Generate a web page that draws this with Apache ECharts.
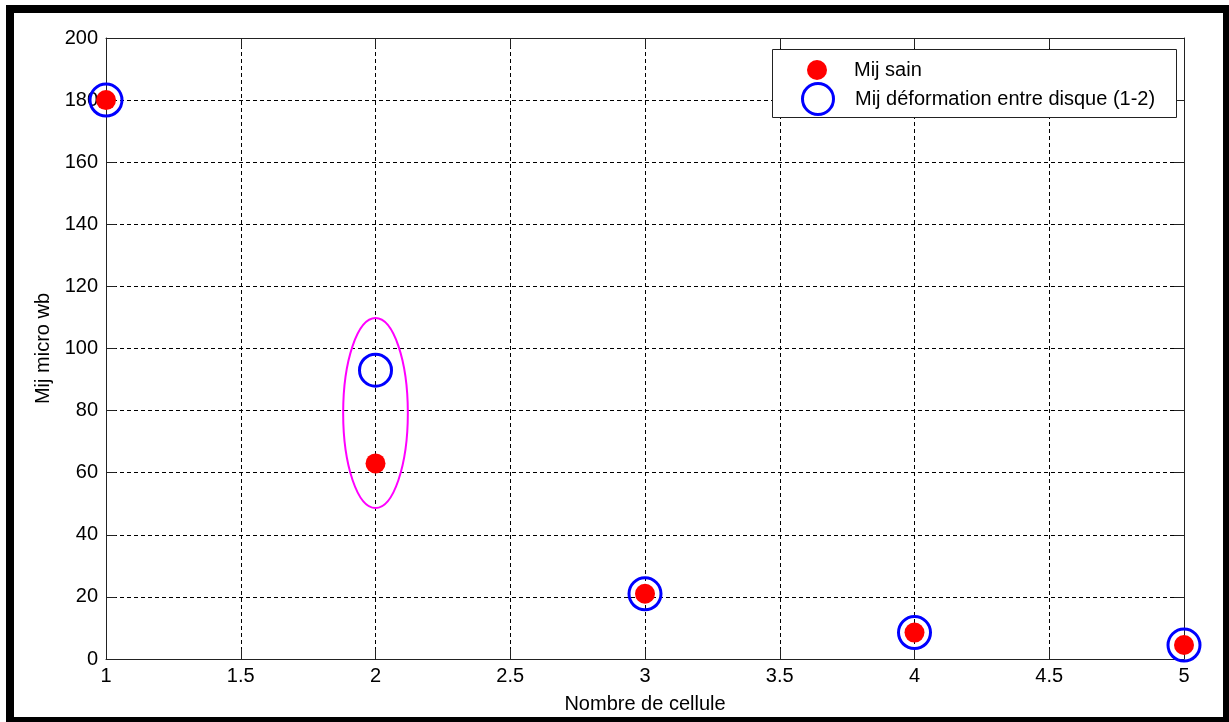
<!DOCTYPE html>
<html>
<head>
<meta charset="utf-8">
<script src="https://cdn.jsdelivr.net/npm/echarts@6/dist/echarts.min.js"></script>
<style>
html,body{margin:0;padding:0;background:#fff;}
#chart{width:1229px;height:722px;}
</style>
</head>
<body>
<div id="chart"></div>
<script>
// ---- data ----
const cellules = [1, 2, 3, 4, 5];
const mijSain = [180, 63, 21, 8.5, 4.5];
const mijDeformation = [180, 93, 21, 8.5, 4.5];
// highlight ellipse: [centre x, centre y, half width (x units), half height (y units)]
const ellipseMark = [[2, 79.2, 0.12, 30.6]];
const seriesNames = ['Mij sain', 'Mij déformation entre disque (1-2)'];
const xAxisTitle = 'Nombre de cellule';
const yAxisTitle = 'Mij micro wb';

const FONT = "'Liberation Sans', Arial, sans-serif";
const chart = echarts.init(document.getElementById('chart'), null, {renderer: 'canvas'});

const xyPairs = (ys) => cellules.map((x, i) => [x, ys[i]]);

const option = {
  backgroundColor: '#ffffff',
  animation: false,
  textStyle: {fontFamily: FONT, color: '#000'},
  grid: {left: 106, right: 45, top: 38, bottom: 63, containLabel: false},
  xAxis: [
    {
      type: 'value', min: 1, max: 5, interval: 0.5, position: 'bottom',
      name: xAxisTitle, nameLocation: 'middle', nameGap: 35,
      nameTextStyle: {fontSize: 20, fontFamily: FONT, color: '#000'},
      axisLine: {show: true, onZero: false, lineStyle: {color: '#222', width: 1}},
      axisTick: {show: true, inside: true, length: 10, lineStyle: {color: '#222'}},
      axisLabel: {fontSize: 20, fontFamily: FONT, color: '#000', margin: 7},
      splitLine: {show: true, lineStyle: {color: '#000', type: [4, 3], width: 1}}
    },
    {
      type: 'value', min: 1, max: 5, interval: 0.5, position: 'top',
      axisLine: {show: true, onZero: false, lineStyle: {color: '#222', width: 1}},
      axisTick: {show: true, inside: true, length: 10, lineStyle: {color: '#222'}},
      axisLabel: {show: false},
      splitLine: {show: false}
    }
  ],
  yAxis: [
    {
      type: 'value', min: 0, max: 200, interval: 20, position: 'left',
      name: yAxisTitle, nameLocation: 'middle', nameGap: 53, nameRotate: 90,
      nameTextStyle: {fontSize: 20, fontFamily: FONT, color: '#000'},
      axisLine: {show: true, onZero: false, lineStyle: {color: '#222', width: 1}},
      axisTick: {show: true, inside: true, length: 10, lineStyle: {color: '#222'}},
      axisLabel: {fontSize: 20, fontFamily: FONT, color: '#000', margin: 8},
      splitLine: {show: true, lineStyle: {color: '#000', type: [4, 3], width: 1}}
    },
    {
      type: 'value', min: 0, max: 200, interval: 20, position: 'right',
      axisLine: {show: true, onZero: false, lineStyle: {color: '#222', width: 1}},
      axisTick: {show: true, inside: true, length: 10, lineStyle: {color: '#222'}},
      axisLabel: {show: false},
      splitLine: {show: false}
    }
  ],
  legend: [
    {
      left: 807, top: 60, padding: 0, itemWidth: 64, itemHeight: 20,
      selectedMode: false,
      textStyle: {fontSize: 20, fontFamily: FONT, color: '#000'},
      data: [{name: seriesNames[0], icon: 'circle', itemStyle: {color: '#ff0000', borderWidth: 0}}]
    },
    {
      left: 800, top: 81, padding: 0, itemWidth: 64, itemHeight: 31,
      selectedMode: false,
      textStyle: {fontSize: 20, fontFamily: FONT, color: '#000'},
      data: [{name: seriesNames[1], icon: 'circle', itemStyle: {color: 'none', borderColor: '#0000ff', borderWidth: 3}}]
    }
  ],
  graphic: [
    // legend box (drawn beneath legend items)
    {type: 'rect', z: 3, shape: {x: 772.5, y: 49.5, width: 404, height: 68},
     style: {fill: '#ffffff', stroke: '#222', lineWidth: 1}},
    // outer black frame
    {type: 'rect', z: 100, shape: {x: 6, y: 5, width: 8, height: 717}, style: {fill: '#000'}},
    {type: 'rect', z: 100, shape: {x: 6, y: 5, width: 1223, height: 8}, style: {fill: '#000'}},
    {type: 'rect', z: 100, shape: {x: 1223, y: 5, width: 6, height: 717}, style: {fill: '#000'}},
    {type: 'rect', z: 100, shape: {x: 6, y: 717, width: 1223, height: 5}, style: {fill: '#000'}}
  ],
  series: [
    {
      name: seriesNames[0], type: 'scatter', symbol: 'circle', symbolSize: 20,
      xAxisIndex: 0, yAxisIndex: 0, clip: false, z: 4,
      itemStyle: {color: '#ff0000', opacity: 1},
      data: xyPairs(mijSain)
    },
    {
      name: seriesNames[1], type: 'scatter', symbol: 'circle', symbolSize: 32,
      xAxisIndex: 0, yAxisIndex: 0, clip: false, z: 5,
      itemStyle: {color: 'none', borderColor: '#0000ff', borderWidth: 3, opacity: 1},
      data: xyPairs(mijDeformation)
    },
    {
      name: 'ellipse', type: 'custom', xAxisIndex: 0, yAxisIndex: 0, clip: false, z: 3,
      silent: true,
      renderItem: function (params, api) {
        const c = api.coord([api.value(0), api.value(1)]);
        const e = api.coord([api.value(0) + api.value(2), api.value(1) + api.value(3)]);
        return {
          type: 'ellipse',
          shape: {cx: c[0], cy: c[1], rx: Math.abs(e[0] - c[0]), ry: Math.abs(c[1] - e[1])},
          style: {fill: 'none', stroke: '#ff00ff', lineWidth: 2}
        };
      },
      data: ellipseMark
    }
  ]
};
chart.setOption(option);
</script>
</body>
</html>
